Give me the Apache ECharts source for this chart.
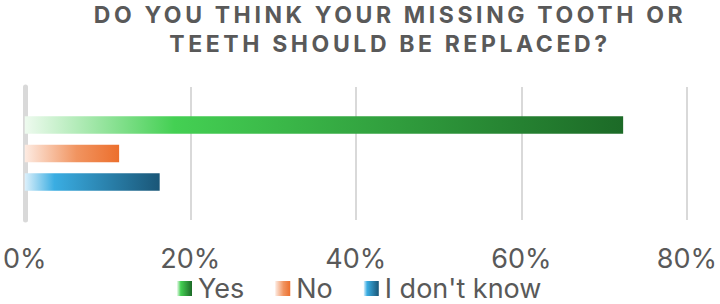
<!DOCTYPE html>
<html>
<head>
<meta charset="utf-8"/>
<script src="https://cdn.jsdelivr.net/npm/echarts@6/dist/echarts.min.js"></script>
<style>
  html, body { margin: 0; padding: 0; background: #fff; }
  #chart { width: 720px; height: 304px; }
  /* the title is letter-spaced in the original */
  #chart text[style*="bold"], #chart text[font-weight="bold"] { letter-spacing: 3.6px; }
</style>
</head>
<body>
<div id="chart"></div>
<script>
// data
var seriesNames = ['Yes', 'No', "I don't know"];
var seriesValues = [72.3, 11.4, 16.3];
var categories = [''];
var tickValues = [0, 20, 40, 60, 80];
var titleLines = ['DO YOU THINK YOUR MISSING TOOTH OR', 'TEETH SHOULD BE REPLACED?'];

// gradient stops per series: pale -> bright -> dark
var gradients = [
  [[0, '#eefaef'], [0.25, '#44d053'], [1, '#1c6a27']],
  [[0, '#fdebe2'], [0.55, '#f19460'], [1, '#ec6f2d']],
  [[0, '#dcf0fb'], [0.22, '#3aade2'], [1, '#1a5677']]
];

var chart = echarts.init(document.getElementById('chart'), null, {renderer: 'svg'});

var series = [];
for (var i = 0; i < seriesNames.length; i++) {
  var stops = gradients[i].map(function (s) { return {offset: s[0], color: s[1]}; });
  series.push({
    name: seriesNames[i],
    type: 'bar',
    barWidth: 17.5,
    barGap: '63%',
    data: [seriesValues[i]],
    itemStyle: {
      color: new echarts.graphic.LinearGradient(0, 0, 1, 0, stops)
    }
  });
}

chart.setOption({
  animation: false,
  title: {
    text: titleLines.join('\n'),
    left: 390,
    top: 0,
    padding: 0,
    textAlign: 'center',
    textStyle: {
      fontFamily: 'Inter',
      fontWeight: 'bold',
      fontSize: 23,
      lineHeight: 29,
      color: '#595959'
    }
  },
  legend: {
    data: seriesNames,
    left: 177,
    top: 275,
    padding: 0,
    itemWidth: 15,
    itemHeight: 15,
    itemGap: 31,
    icon: 'rect',
    textStyle: {
      fontFamily: 'Inter',
      fontSize: 27,
      lineHeight: 24,
      color: '#595959',
      padding: [0, 0, 0, 1]
    }
  },
  grid: {
    left: 24,
    right: 32,
    top: 87,
    bottom: 84,
    containLabel: false
  },
  xAxis: {
    type: 'value',
    min: tickValues[0],
    max: tickValues[tickValues.length - 1],
    interval: 20,
    axisLine: {show: false},
    axisTick: {show: false},
    splitLine: {lineStyle: {color: '#d9d9d9', width: 2}},
    axisLabel: {
      formatter: '{value}%',
      fontFamily: 'Inter',
      fontSize: 27,
      lineHeight: 24,
      color: '#595959',
      margin: 26
    }
  },
  yAxis: {
    type: 'category',
    data: categories,
    inverse: true,
    axisTick: {show: false},
    axisLabel: {show: false},
    axisLine: {lineStyle: {color: '#d9d9d9', width: 5}}
  },
  series: series
});
</script>
</body>
</html>
